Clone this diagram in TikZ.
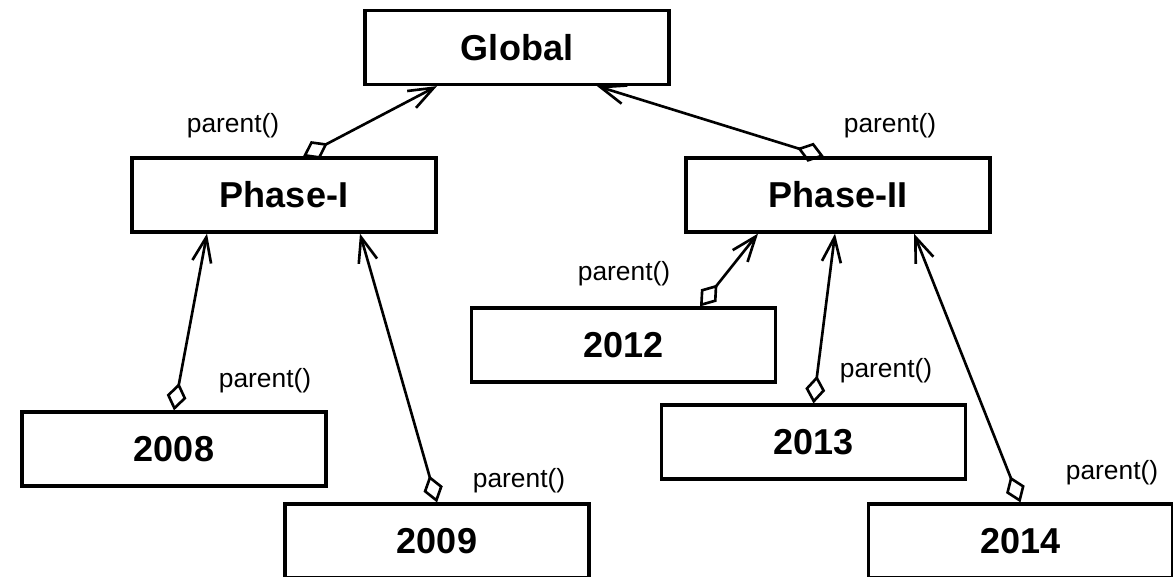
\documentclass[tikz,border=0pt]{standalone}
\usepackage{fontspec}
\setmainfont{Liberation Sans}
\usetikzlibrary{arrows.meta}

\begin{document}
\begin{tikzpicture}[
  x=0.02cm, y=-0.02cm,
  every node/.style={font=\fontsize{15}{18}\selectfont},
  box/.style={
    draw,
    line width=1.8pt,
    minimum width=6.08cm,
    minimum height=1.48cm,
    inner sep=0pt,
    font=\fontsize{20.5}{24}\selectfont\bfseries
  },
  link/.style={
    line width=1.5pt,
    {Diamond[open,length=0.56cm,width=0.4cm]}-{Straight Barb[length=0.5cm,width=0.38cm]}
  }
]
\useasboundingbox (0,0) rectangle (1173,576);
\node[box] (global) at (517,47.5) {Global};
\node[box] (phaseI) at (284,195) {Phase-I};
\node[box] (phaseII) at (838,195) {Phase-II};
\node[box] (y2008) at (174,449) {2008};
\node[box] (y2009) at (437,541) {2009};
\node[box] (y2012) at (623.5,345) {2012};
\node[box] (y2013) at (813.5,442) {2013};
\node[box] (y2014) at (1020.5,541) {2014};
% parent() labels
\node (lblI) at (233,126) {parent()};
\node (lblII) at (890,126) {parent()};
\node (lbl2008) at (265,381) {parent()};
\node (lbl2009) at (519,481) {parent()};
\node (lbl2012) at (624,274) {parent()};
\node (lbl2013) at (886,371) {parent()};
\node (lbl2014) at (1112,473) {parent()};
\draw[link] ([xshift=0.38cm]phaseI.north) -- ([xshift=-1.6cm]global.south);
\draw[link] ([xshift=-0.28cm]phaseII.north) -- ([xshift=1.6cm]global.south);
\draw[link] (y2008.north) -- ([xshift=-1.54cm]phaseI.south);
\draw[link] (y2009.north) -- ([xshift=1.52cm]phaseI.south);
\draw[link] ([xshift=1.53cm]y2012.north) -- ([xshift=-1.6cm]phaseII.south);
\draw[link] (y2013.north) -- ([xshift=-0.06cm]phaseII.south);
\draw[link] (y2014.north) -- ([xshift=1.52cm]phaseII.south);
\end{tikzpicture}
\end{document}
